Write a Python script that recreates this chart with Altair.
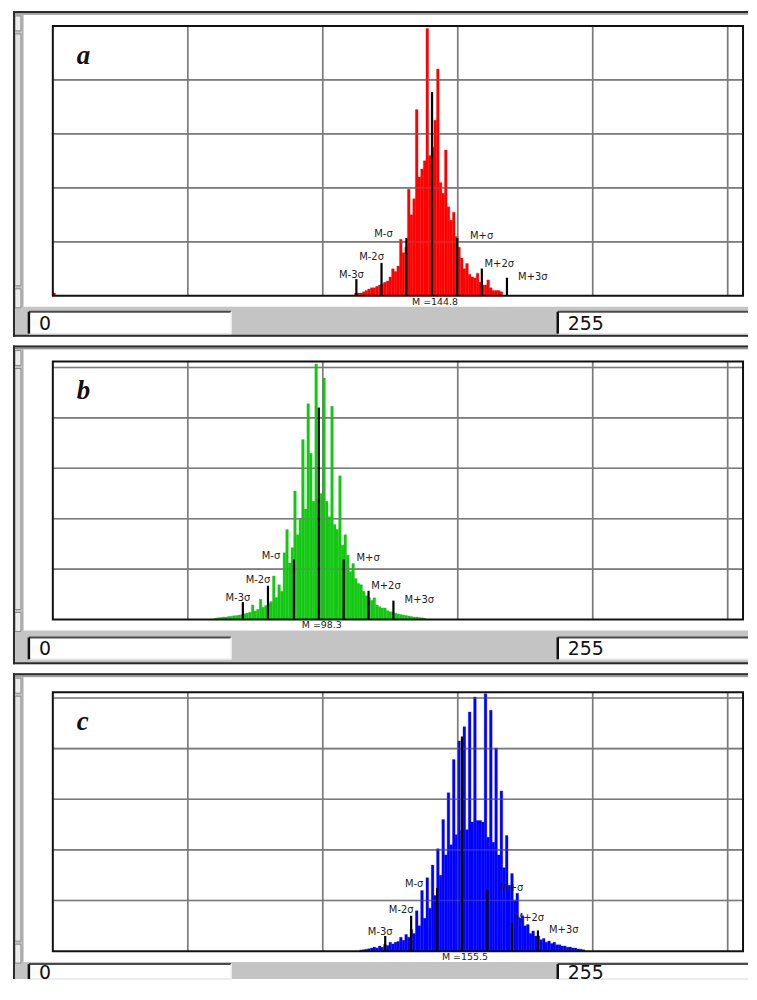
import altair as alt
import pandas as pd

# ---------------- data ----------------
red_bins = [0] + list(range(114, 170))
red_counts = [1.0,
              1, 1, 1, 1.5, 2, 2.5, 3, 3, 3.5, 4,
              4.5, 5, 5.5, 7, 10, 9, 11, 21, 16, 18,
              39.5, 30, 36, 69, 44, 47, 50, 99, 52, 55,
              65, 84, 42, 38, 54, 33, 28, 31, 22, 18,
              14, 10, 12, 8, 7, 6.6, 8.4, 5, 4, 4,
              5.9, 3, 2, 2, 2, 1.5]

green_bins = list(range(61, 141))
green_counts = [0.5, 0.7, 0.8, 1, 1, 1.2, 1.3, 1.5, 1.6, 1.8,
                2, 2.3, 2.6, 2.9, 5.8, 3.4, 4.1, 8, 4.9, 5.6,
                6.3, 7.1, 17.3, 8.7, 13.8, 11.2, 26.5, 35.7, 22.4, 28.5,
                51, 33.6, 39.8, 71.4, 43.8, 85.6, 66, 46.9, 101.4, 47.9,
                50, 95.8, 46.9, 40.8, 84.6, 37.7, 35.7, 57, 29.6, 33.6,
                25.5, 19, 22.2, 16.3, 14.3, 13.8, 11.2, 9.4, 8.7, 7.6,
                8.6, 5.8, 5.1, 4.6, 4.6, 3.5, 3.1, 2.9, 2.5, 2.2,
                2, 1.8, 1.6, 1.4, 1.2, 1, 1, 0.8, 0.7, 0.5]

blue_bins = list(range(116, 201))
blue_counts = [0.5, 0.6, 0.8, 1.0, 1.2, 1.6, 1.2, 2.0, 1.5, 2.7,
               2.2, 3.5, 2.8, 3.5, 3.8, 5.5, 4.3, 6.6, 5.5, 8.6,
               7, 16, 10, 24, 13, 29, 17, 34, 22, 40.5,
               30, 52, 38, 62.6, 42, 75.7, 46, 83, 47.7, 88.7,
               48, 94.5, 51, 100.4, 51.6, 51.6, 51, 101.7, 45, 95.2,
               43, 80.2, 38, 63.3, 33, 45.7, 26, 30.7, 20, 22.9,
               13, 14, 10, 10.5, 7, 8, 6, 6, 4.5, 5,
               3.5, 4, 3, 3.5, 2.5, 2.5, 2, 2, 1.5, 1.6,
               1.2, 1.2, 0.9, 0.8, 0.6]

marker_labels = ["M-3σ", "M-2σ", "M-σ", "M", "M+σ", "M+2σ", "M+3σ"]
red_marks = [114.7, 124.2, 133.6, 143.3, 152.8, 162.1, 171.6]
red_mark_h = [6.2, 12.2, 21.4, 75.5, 21.4, 10.1, 6.7]
green_marks = [71.8, 81.3, 91.1, 100.5, 109.9, 119.3, 128.7]
green_mark_h = [6.9, 13.4, 23.8, 84.1, 23.8, 11.4, 7.5]
blue_marks = [125.6, 135.4, 145.2, 154.6, 164.2, 173.5, 183.3]
blue_mark_h = [6.0, 14.0, 24.9, 84.8, 24.2, 11.2, 8.2]

mean_labels = ["M =144.8", "M =98.3", "M =155.5"]
panel_letters = ["a", "b", "c"]
range_labels = ["0", "255"]
grid_x_vals = [51, 102, 153, 204, 255]
grid_y_vals = [20, 40, 60, 80, 100]

# ---------------- layout constants ----------------
X_MAX = 260.8
W = 693
RIGHT = 698
LABEL_DX = [-5, -10, -23, 0, 24.5, 17.5, 26]
LABEL_DY = [-4, -6, -4, 0, -2, -5, -0.5]
FONT = "DejaVu Sans"

one = pd.DataFrame({"k": [0]})


def rect(x1, x2, y1, y2, fill, **kw):
    return alt.Chart(one).mark_rect(fill=fill, **kw).encode(
        x=alt.value(x1), x2=alt.value(x2), y=alt.value(y1), y2=alt.value(y2))


def hline(x1, x2, y, color, w):
    return alt.Chart(one).mark_rule(color=color, strokeWidth=w).encode(
        x=alt.value(x1), x2=alt.value(x2), y=alt.value(y))


def vline(x, y1, y2, color, w):
    return alt.Chart(one).mark_rule(color=color, strokeWidth=w).encode(
        x=alt.value(x), y=alt.value(y1), y2=alt.value(y2))


def panel(bins, counts, color, marks, mark_h, mean_label, letter,
          H, y_top, top_pad, bottom_pad, box_top, box_h, bottom_border=True):
    xs = alt.Scale(domain=[0, X_MAX], nice=False, zero=False)
    ys = alt.Scale(domain=[0, y_top], nice=False, zero=False)
    layers = []
    B = H + bottom_pad
    T = -top_pad
    # window chrome
    layers.append(rect(-40, RIGHT, T, B, "#c4c4c4"))
    layers.append(rect(-30, RIGHT, T + 4, H + 11, "#ffffff"))
    layers.append(vline(-30, T + 4, H + 11, "#9a9a9a", 1))
    layers.append(rect(-38, -32, T + 5, T + 20, "#ececec", stroke="#8a8a8a", strokeWidth=1))
    layers.append(rect(-38, -32, T + 23, H - 10, "#e2e2e2", stroke="#8a8a8a", strokeWidth=1))
    layers.append(rect(-38, -32, H - 7, H + 12, "#ececec", stroke="#8a8a8a", strokeWidth=1))
    layers.append(hline(-40, RIGHT, T + 1, "#2b2b2b", 2))
    layers.append(hline(-40, RIGHT, T + 3, "#8a8a8a", 1))
    layers.append(vline(-39, T, B, "#2b2b2b", 2))
    if bottom_border:
        layers.append(hline(-40, RIGHT, B - 1, "#2b2b2b", 2))
    # range boxes
    by1, by2 = H + box_top, H + box_top + box_h
    for x1, x2 in [(-24, 179), (507, RIGHT)]:
        layers.append(rect(x1, x2, by1, by2, "#ffffff"))
        layers.append(hline(x1, x2, by1, "#4a4a4a", 2))
        layers.append(hline(x1, x2, by2, "#e6e6e6", 1.5))
        layers.append(vline(x1, by1, by2, "#111111", 2.5))
    layers.append(vline(179, by1, by2, "#f0f0f0", 1.5))
    for txt, x in zip(range_labels, [-14, 517]):
        layers.append(alt.Chart(one).mark_text(
            font=FONT, fontSize=19, align="left", baseline="middle", color="#111111"
        ).encode(x=alt.value(x), y=alt.value(by1 + box_h / 2 + 1), text=alt.value(txt)))

    gx = pd.DataFrame({"g": grid_x_vals})
    gy = pd.DataFrame({"g": grid_y_vals})

    def grids(opacity):
        vx = alt.Chart(gx).mark_rule(color="#7c7c7c", strokeWidth=1.6, opacity=opacity).encode(
            x=alt.X("g:Q", scale=xs, axis=None), y=alt.value(0), y2=alt.value(H))
        hy = alt.Chart(gy).mark_rule(color="#7c7c7c", strokeWidth=1.6, opacity=opacity).encode(
            y=alt.Y("g:Q", scale=ys, axis=None), x=alt.value(0), x2=alt.value(W))
        return [vx, hy]

    layers += grids(1.0)

    # histogram bars
    hist = pd.DataFrame({"bin": bins, "count": counts})
    layers.append(alt.Chart(hist).transform_calculate(end="datum.bin + 1").mark_rect(
        color=color, stroke=color, strokeWidth=0.3, clip=True
    ).encode(
        x=alt.X("bin:Q", scale=xs, axis=None), x2="end:Q",
        y=alt.Y("count:Q", scale=ys, axis=None), y2=alt.datum(0)))

    layers += grids(0.35)

    # sigma markers
    mk = pd.DataFrame({"pos": marks, "h": mark_h, "lab": marker_labels})
    layers.append(alt.Chart(mk).mark_rule(color="black", strokeWidth=2.2).encode(
        x=alt.X("pos:Q", scale=xs, axis=None),
        y=alt.Y("h:Q", scale=ys, axis=None), y2=alt.datum(0)))
    for i in range(len(marker_labels)):
        if i == 3:
            continue
        layers.append(alt.Chart(mk.iloc[[i]]).mark_text(
            font=FONT, fontSize=10, color="#222222", align="center", baseline="middle",
            dx=LABEL_DX[i], dy=LABEL_DY[i]
        ).encode(x=alt.X("pos:Q", scale=xs, axis=None),
                 y=alt.Y("h:Q", scale=ys, axis=None), text="lab:N"))
    mean_df = pd.DataFrame({"pos": [marks[3]], "t": [mean_label]})
    layers.append(alt.Chart(mean_df).mark_text(
        font=FONT, fontSize=9.5, color="#222222", align="center", baseline="middle", dx=3
    ).encode(x=alt.X("pos:Q", scale=xs, axis=None), y=alt.value(H + 6), text="t:N"))

    # plot frame
    layers.append(rect(0, W, 0, H, "#ffffff", fillOpacity=0, stroke="#111111", strokeWidth=2))
    # panel letter
    layers.append(alt.Chart(one).mark_text(
        font="Liberation Serif", fontStyle="italic", fontWeight="bold", fontSize=27,
        align="left", baseline="alphabetic", color="#111111"
    ).encode(x=alt.value(24), y=alt.value(38), text=alt.value(letter)))

    return alt.layer(*layers).properties(width=W, height=H)


pa = panel(red_bins, red_counts, "#ff0000", red_marks, red_mark_h,
           mean_labels[0], panel_letters[0], 271, 100.0, 15, 41, 16, 22)
pb = panel(green_bins, green_counts, "#14c814", green_marks, green_mark_h,
           mean_labels[1], panel_letters[1], 259, 102.35, 16, 45, 18, 22)
pc = panel(blue_bins, blue_counts, "#0000ff", blue_marks, blue_mark_h,
           mean_labels[2], panel_letters[2], 260, 102.3, 19, 28, 13, 15, False)

chart = alt.vconcat(pa, pb, pc, spacing=7).properties(
    padding={"left": 4, "top": 0, "right": 0, "bottom": 0},
    background="#ffffff",
).configure_view(strokeWidth=0)

chart.save("out.html", embed_options={"renderer": "svg", "actions": False})
